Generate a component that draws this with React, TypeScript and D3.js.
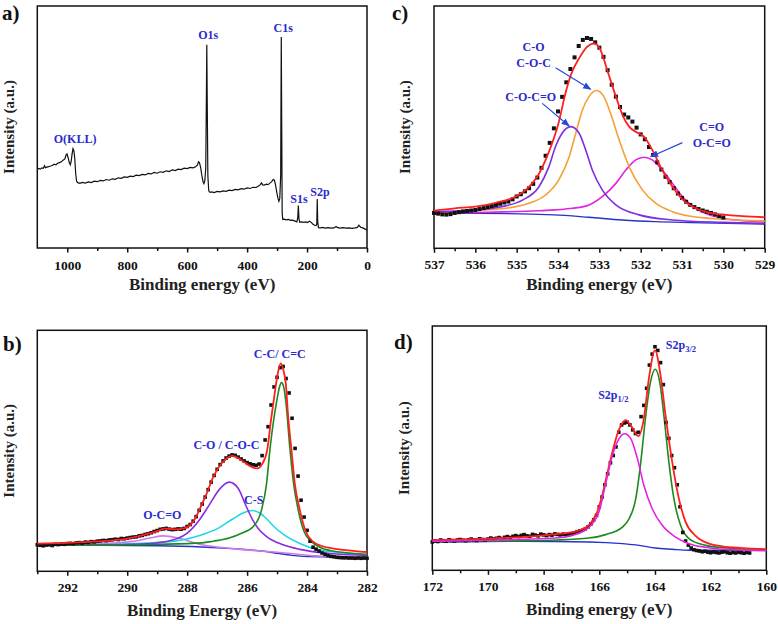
import * as d3 from 'd3'
import { useEffect, useRef } from 'react'

// a) survey spectrum, [binding energy (eV), intensity (a.u.)]
const surveyData: [number, number][] = [
  [1100, 32.4], [1095, 32.9], [1090, 32.6], [1085, 33.1], [1080, 32.9], [1076, 34.0], [1073, 33.2], [1068, 33.4],
  [1062, 33.6], [1056, 33.9], [1050, 34.1], [1044, 34.6], [1038, 34.4], [1032, 35.0], [1026, 35.3], [1020, 35.6],
  [1014, 36.3], [1008, 36.8], [1004, 38.5], [1001, 38.9], [997, 37.2], [993, 35.2], [990, 34.4], [987, 35.8],
  [984, 38.8], [981, 41.0], [978, 40.2], [975, 37.0], [972, 31.0], [969, 27.6], [965, 27.0], [958, 26.7],
  [950, 27.1], [940, 26.8], [930, 27.3], [920, 27.0], [910, 27.6], [900, 27.4], [890, 27.9], [880, 27.7],
  [870, 28.3], [860, 28.0], [850, 28.6], [840, 28.4], [830, 29.0], [820, 28.8], [810, 29.4], [800, 29.2],
  [790, 29.7], [780, 29.5], [770, 30.1], [760, 29.9], [750, 30.4], [740, 30.2], [730, 30.8], [720, 30.6],
  [710, 31.2], [700, 30.9], [690, 31.5], [680, 31.3], [670, 31.9], [660, 31.6], [650, 32.3], [640, 32.0],
  [630, 32.6], [620, 32.4], [610, 33.0], [600, 32.8], [590, 33.3], [580, 33.1], [572, 33.6], [566, 34.2],
  [562, 35.6], [559, 35.3], [555, 33.2], [551, 30.0], [547, 27.4], [544, 26.6], [541, 27.8], [538, 33.0],
  [536, 60.0], [534.5, 84.0], [533, 60.0], [531, 30.0], [528, 23.6], [524, 23.0], [518, 23.2], [510, 22.9],
  [500, 23.4], [490, 23.2], [480, 23.6], [470, 23.4], [460, 23.9], [450, 23.7], [440, 24.2], [430, 24.0],
  [420, 24.5], [410, 24.3], [400, 24.8], [390, 24.6], [380, 25.1], [370, 25.0], [362, 25.6], [356, 26.2],
  [352, 26.9], [348, 26.1], [343, 26.0], [336, 26.4], [330, 26.2], [324, 26.8], [318, 27.4], [313, 28.3],
  [309, 28.0], [305, 26.0], [301, 23.0], [297, 20.5], [294, 19.3], [291, 20.5], [288, 30.0], [286, 87.2],
  [284.5, 50.0], [283, 14.5], [281, 11.8], [276, 11.9], [270, 11.6], [262, 11.8], [255, 11.4], [248, 11.5],
  [240, 11.1], [234, 10.8], [231, 12.5], [229, 17.6], [227, 12.0], [224, 10.6], [218, 10.8], [210, 10.6],
  [204, 10.8], [198, 10.5], [192, 11.1], [188, 10.8], [184, 10.3], [180, 9.8], [175, 9.4], [170, 9.3],
  [167.5, 10.0], [166, 20.2], [164.5, 11.0], [162, 8.4], [155, 8.3], [148, 8.5], [140, 8.2], [130, 8.4],
  [120, 8.2], [110, 8.3], [103, 8.9], [98, 8.4], [90, 8.2], [80, 8.4], [70, 8.2], [60, 8.3],
  [50, 8.1], [40, 8.3], [32, 8.5], [27, 9.4], [24, 9.0], [20, 8.5], [14, 8.3], [8, 7.9], [4, 7.6], [0, 7.3],
]
const surveyLabels = [
  { text: 'O(KLL)', e: 974, i: 43.2 },
  { text: 'O1s', e: 529.5, i: 86.4 },
  { text: 'C1s', e: 279.3, i: 89.4 },
  { text: 'S1s', e: 226.9, i: 18.6 },
  { text: 'S2p', e: 156.8, i: 21.6 },
]

// b) C1s, measured points every 0.1 eV from 293.0 eV down
const c1sStart = 293.0
const c1sMeasured = [
  11.0, 10.8, 10.6, 10.9, 11.0, 10.7, 11.2, 11.1, 11.3, 11.2, // 293.0
  11.5, 11.6, 11.4, 11.8, 11.9, 11.7, 12.1, 12.0, 12.3, 12.2, // 292.0
  12.5, 12.6, 12.8, 12.7, 13.0, 13.1, 13.3, 13.2, 13.6, 13.5, // 291.0
  13.8, 14.0, 14.2, 14.3, 14.7, 14.9, 15.3, 15.6, 16.0, 16.5, // 290.0
  16.9, 17.4, 17.6, 17.8, 17.5, 17.3, 17.4, 17.6, 17.5, 17.8, // 289.0
  18.6, 19.4, 20.8, 22.7, 25.3, 27.9, 30.8, 33.9, 37.0, 39.8, // 288.0
  42.3, 44.3, 45.8, 47.0, 47.8, 48.3, 48.1, 47.4, 46.6, 45.8, // 287.0
  45.1, 44.6, 44.2, 44.0, 44.5, 48.0, 54.5, 60.0, 69.0, 76.5, // 286.0
  80.5, 84.5, 85.0, 80.0, 74.0, 63.5, 51.0, 39.5, 29.5, 22.5, // 285.0
  17.0, 12.5, 10.0, 9.2, 8.4, 7.6, 7.0, 6.5, 6.2, 6.0,        // 284.0
  5.8, 5.7, 5.6, 5.6, 5.5, 5.5, 5.4, 5.5, 5.4, 5.5,           // 283.0
  5.4,                                                        // 282.0
]
const c1sFit: [number, number][] = [
  [293, 11.5], [292, 11.8], [291, 12.4], [290, 13.6], [289.5, 14.9], [289, 16.7], [288.75, 17.7], [288.4, 17.4],
  [288.1, 17.8], [287.9, 19.2], [287.75, 21.5], [287.6, 25.3], [287.35, 32.2], [287.13, 39.1], [286.9, 44], [286.7, 46.6],
  [286.5, 47.9], [286.3, 47], [286.1, 45.3], [285.9, 43.6], [285.65, 42.7], [285.5, 44.5], [285.33, 50.3], [285.2, 63],
  [285.1, 72], [285, 80.5], [284.88, 86.3], [284.78, 83], [284.71, 78], [284.63, 64.1], [284.52, 50.3], [284.41, 36.5],
  [284.24, 25.4], [284.04, 16.4], [283.8, 12.3], [283.5, 10.5], [283.2, 9.6], [282.8, 8.9], [282.4, 8.4], [282, 8.0],
]
const c1sCC: [number, number][] = [
  [293, 10.8], [291, 10.9], [289, 11.2], [287.5, 11.8], [287.13, 12.5], [286.6, 13.8], [286.24, 15.5], [285.8, 18.5],
  [285.52, 25.4], [285.35, 36.5], [285.24, 50.3], [285.1, 64], [285.02, 70], [284.92, 76.5], [284.85, 78.3], [284.78, 76.5],
  [284.69, 68.3], [284.58, 52], [284.45, 36.5], [284.27, 24], [284.1, 16.5], [283.85, 12.3], [283.6, 10.2], [283.2, 8.5],
  [282.5, 7.5], [282, 7.0],
]
const c1sCO: [number, number][] = [
  [293, 10.8], [289.8, 11.2], [288.69, 12.4], [288.02, 15.6], [287.58, 21.5], [287.24, 28], [286.91, 34.2], [286.6, 37],
  [286.3, 34.5], [286.05, 27.5], [285.8, 21], [285.58, 17], [285.36, 14.5], [284.8, 11], [284.24, 9.1], [283.13, 7.3], [282, 6.6],
]
const c1sCS: [number, number][] = [
  [293, 10.9], [290.9, 11.1], [288.69, 12.2], [287.58, 14.9], [287.02, 17.5], [286.47, 21.8], [286.1, 24.4], [285.83, 25.2],
  [285.55, 24], [285.36, 21.9], [285.1, 18.5], [284.8, 15.4], [284.24, 11.5], [283.69, 9.1], [283.13, 8], [282, 6.9],
]
const c1sOCO: [number, number][] = [
  [293, 10.8], [290.91, 11.5], [289.8, 12.4], [289.24, 13.8], [288.8, 14.7], [288.24, 13.6], [287.58, 11.2], [286.47, 9.4],
  [284.8, 7.7], [283.69, 6.4], [282, 5.9],
]
const c1sBackground: [number, number][] = [
  [293, 10.9], [289, 10.6], [287.5, 10.1], [286.5, 9.4], [285.5, 8.4], [285, 7.5], [284.5, 6.6], [284, 6.1], [283, 5.9], [282, 5.9],
]
const c1sLabels = [
  { text: 'C-C/ C=C', e: 284.91, i: 88.6 },
  { text: 'C-O / C-O-C', e: 286.69, i: 50.9 },
  { text: 'C-S', e: 285.78, i: 27.8 },
  { text: 'O-C=O', e: 288.83, i: 21.6 },
]

// c) O1s, measured points every 0.1 eV from 537.0 eV down
const o1sStart = 537.0
const o1sMeasured = [
  14.6, 14.3, 14.0, 13.9, 14.1, 14.6, 14.9, 15.2, 15.4, 15.6, // 537.0
  15.8, 16.2, 16.6, 17.0, 17.4, 17.9, 18.4, 18.9, 19.3, 20.2, // 536.0
  21.4, 22.3, 23.5, 24.8, 26.6, 29.2, 33.2, 38.2, 43.5, 49.5, // 535.0
  56.5, 62.5, 68.5, 74.0, 78.8, 83.5, 86.0, 86.8, 86.4, 85.0, // 534.0
  82.8, 79.0, 73.5, 67.5, 62.6, 58.3, 55.2, 54.0, 52.3, 49.8, // 533.0
  47.0, 45.0, 41.8, 38.5, 35.5, 32.5, 29.5, 27.3, 24.8, 22.6, // 532.0
  20.8, 19.2, 17.9, 17.0, 16.2, 15.6, 15.1, 14.6, 14.0, 13.3, // 531.0
  12.7,                                                       // 530.0
]
const o1sFit: [number, number][] = [
  [537, 15.5], [536.5, 16.5], [536, 17.2], [535.5, 18.8], [535, 21.6], [534.7, 25.4], [534.5, 29.6], [534.3, 36.5],
  [534.1, 45.4], [534, 50.9], [533.81, 64.6], [533.69, 71.5], [533.49, 78.4], [533.29, 83.2], [533.13, 84.6], [532.97, 81.8],
  [532.81, 73.6], [532.6, 62.6], [532.44, 55], [532.28, 50.2], [532.08, 47.7], [531.92, 46.1], [531.72, 40.6], [531.48, 32.3],
  [531.23, 25.4], [530.99, 20.2], [530.67, 16.5], [530.35, 14.7], [529.94, 13.8], [529.54, 13.3], [529, 12.8],
]
const o1sCOC: [number, number][] = [
  [537, 15.1], [536.07, 15.8], [535.27, 17.5], [534.86, 19.9], [534.46, 25.4], [534.22, 33.7], [534.06, 42], [533.9, 47.5],
  [533.69, 50.2], [533.49, 47.5], [533.33, 40.6], [533.17, 32.3], [532.93, 24.1], [532.6, 17.9], [532.04, 13.8], [531.23, 11.7],
  [530.02, 10.7], [529, 10.3],
]
const o1sCO: [number, number][] = [
  [537, 14.9], [536.07, 15.5], [535.27, 16.5], [534.7, 18.6], [534.3, 22], [533.98, 28.2], [533.73, 37.8], [533.57, 47.5],
  [533.41, 57.1], [533.25, 62.6], [533.07, 65.1], [532.89, 62.6], [532.73, 55.7], [532.52, 44.7], [532.28, 33.7], [531.96, 24.1],
  [531.64, 18.6], [531.23, 15.1], [530.83, 13.3], [530.02, 12], [529, 11.3],
]
const o1sCdO: [number, number][] = [
  [537, 14.4], [535.67, 14.9], [534.46, 15.5], [533.65, 16.5], [533.25, 17.9], [532.93, 21.3], [532.6, 26.8], [532.36, 32.3],
  [532.12, 36.5], [531.92, 37.6], [531.72, 36.5], [531.48, 32.3], [531.23, 26.8], [530.99, 21.3], [530.67, 16.5], [530.35, 13.8],
  [530.02, 12.4], [529.54, 11.4], [529, 11],
]
const o1sBackground: [number, number][] = [
  [537, 14.4], [535.9, 14.4], [534.1, 13.8], [533.25, 12.8], [532.45, 11.7], [531.65, 11], [530.8, 10.6], [529, 10.0],
]
const o1sLabels = [
  { text: 'C-O', e: 534.59, i: 81.6 },
  { text: 'C-O-C', e: 534.59, i: 74.9 },
  { text: 'C-O-C=O', e: 534.66, i: 60.9 },
  { text: 'C=O', e: 530.28, i: 48.5 },
  { text: 'O-C=O', e: 530.28, i: 41.9 },
]
// arrows: [from e, from i, to e, to i]
const o1sArrows = [
  [534.06, 74.5, 533.21, 65.6],
  [534.38, 59.8, 533.73, 50.5],
  [530.99, 43.6, 531.76, 37.8],
]

// d) S2p, measured points every 0.1 eV from 172.0 eV down
const s2pStart = 172.0
const s2pMeasured = [
  11.6, 12.0, 11.8, 12.4, 12.1, 11.9, 12.5, 12.2, 12.0, 12.4, // 172.0
  12.6, 12.3, 12.1, 12.5, 12.8, 12.4, 12.2, 12.9, 12.6, 12.4, // 171.0
  12.8, 13.2, 12.9, 13.1, 13.4, 13.0, 13.5, 13.8, 13.4, 13.9, // 170.0
  14.2, 13.8, 14.3, 14.6, 14.1, 13.9, 14.7, 14.4, 14.1, 14.8, // 169.0
  14.5, 14.2, 14.6, 14.4, 14.9, 14.7, 14.5, 14.8, 14.6, 14.6, // 168.0
  15.0, 15.3, 15.8, 16.1, 16.4, 17.0, 17.8, 19.0, 20.7, 22.5, // 167.0
  26.0, 30.0, 35.0, 39.5, 44.0, 47.0, 50.5, 56.5, 59.5, 60.3, // 166.0
  60.6, 59.5, 57.5, 56.0, 56.5, 62.9, 67.5, 74.5, 84.0, 88.5, // 165.0
  91.5, 90.0, 85.0, 76.0, 60.5, 54.0, 47.0, 42.0, 35.0, 26.0, // 164.0
  15.5, 12.0, 10.3, 9.1, 8.4, 8.1, 7.9, 7.6, 7.8, 7.4,        // 163.0
  7.2, 7.5, 7.3, 7.1, 7.4, 7.6, 7.2, 7.0, 7.3, 7.1,           // 162.0
  7.4, 7.2, 7.0, 7.3, 7.1,                                    // 161.0
]
const s2pFit: [number, number][] = [
  [172, 12.3], [169.96, 13], [168.77, 13.6], [167.57, 14.8], [166.97, 15.6], [166.61, 16.8], [166.4, 18.3], [166.25, 20.3],
  [166.07, 24.0], [165.9, 30.5], [165.73, 38.8], [165.55, 47.5], [165.35, 55.8], [165.2, 59.8], [165.05, 61.5], [164.87, 59.3],
  [164.6, 54.9], [164.4, 62.1], [164.22, 78.4], [164.0, 90.0], [163.8, 79.8], [163.62, 63.4], [163.38, 44.3], [163.14, 29.3],
  [162.9, 19.8], [162.54, 14.1], [162.06, 10.9], [161.58, 9.8], [160.86, 9.1], [160, 8.6],
]
const s2p32: [number, number][] = [
  [172, 11.6], [169.96, 11.9], [167.57, 12.4], [166.37, 13.2], [165.77, 14.6], [165.17, 17.7], [164.93, 21.1], [164.69, 29.3],
  [164.51, 44.3], [164.33, 63.4], [164.16, 77.1], [163.99, 82.3], [163.83, 77.1], [163.68, 63.4], [163.5, 44.3], [163.32, 29.3],
  [163.08, 18.4], [162.78, 13], [162.18, 10.2], [161.58, 9.3], [160, 8.6],
]
const s2p12: [number, number][] = [
  [172, 11.9], [169.96, 12.3], [168.77, 12.7], [167.57, 13.2], [166.97, 14.3], [166.61, 15.8], [166.25, 19.0], [166.01, 24.0],
  [165.77, 35.5], [165.53, 47.0], [165.29, 53.9], [165.09, 55.9], [164.87, 53.9], [164.63, 45.7], [164.4, 34.8], [164.1, 25.2],
  [163.74, 18.4], [163.26, 13.6], [162.78, 10.9], [162.18, 9.4], [161.58, 8.6], [160, 8],
]
const s2pBackground: [number, number][] = [
  [172, 11.6], [168.77, 11.9], [166.37, 11.6], [165.17, 10.9], [164.57, 10.2], [163.98, 9.1], [163.38, 8.6], [162.78, 8.2], [160, 8.2],
]
const s2pLabels = [
  { main: 'S2p', sub: '3/2', e: 163.61, i: 90.7 },
  { main: 'S2p', sub: '1/2', e: 166.04, i: 70.2 },
]

const serif = "'Liberation Serif', 'Times New Roman', serif"
const labelBlue = '#2b2bcc'

function setupPanel(svg: any, p: any) {
  const x = d3.scaleLinear().domain(p.domain).range([p.left, p.right])
  const y = d3.scaleLinear().domain([0, 100]).range([p.bottom, p.top])
  const g = svg.append('g')

  const minor = g.append('g').attr('transform', `translate(0,${p.bottom})`)
    .call(d3.axisBottom(x).tickValues(p.minors).tickSize(3).tickFormat(() => ''))
  minor.select('.domain').remove()
  minor.selectAll('line').attr('stroke', '#111').attr('stroke-width', 1.5)

  const major = g.append('g').attr('transform', `translate(0,${p.bottom})`)
    .call(d3.axisBottom(x).tickValues(p.majors).tickSize(4.5).tickFormat(d3.format('d')))
  major.select('.domain').remove()
  major.selectAll('line').attr('stroke', '#111').attr('stroke-width', 1.5)
  major.selectAll('text').attr('y', p.tickY).attr('dy', null)
    .attr('font-family', serif).attr('font-weight', 'bold').attr('font-size', 13.5).attr('fill', '#111')

  g.append('rect').attr('x', p.left).attr('y', p.top)
    .attr('width', p.right - p.left).attr('height', p.bottom - p.top)
    .attr('fill', 'none').attr('stroke', '#111').attr('stroke-width', 1.5)

  g.append('text').text(p.title)
    .attr('x', (p.left + p.right) / 2).attr('y', p.bottom + p.titleY)
    .attr('text-anchor', 'middle').attr('font-family', serif).attr('font-weight', 'bold')
    .attr('font-size', 17).attr('fill', '#222')

  g.append('text').text('Intensity (a.u.)')
    .attr('transform', `translate(${p.left - 29},${(p.top + p.bottom) / 2}) rotate(-90)`)
    .attr('text-anchor', 'middle').attr('dy', '0.35em')
    .attr('font-family', serif).attr('font-weight', 'bold').attr('font-size', 15).attr('fill', '#222')

  g.append('text').text(p.letter)
    .attr('x', p.letterX).attr('y', p.letterY)
    .attr('font-family', serif).attr('font-weight', 'bold').attr('font-size', 21).attr('fill', '#111')

  return { g, x, y }
}

function drawCurve(g: any, x: any, y: any, pts: [number, number][], color: string, width = 1.6) {
  const line = d3.line<[number, number]>().x(d => x(d[0])).y(d => y(d[1])).curve(d3.curveMonotoneX)
  g.append('path').datum(pts).attr('d', line).attr('fill', 'none')
    .attr('stroke', color).attr('stroke-width', width)
}

function drawSquares(g: any, x: any, y: any, start: number, values: number[], size: number) {
  const pts = values.map((v, k) => [start - k * 0.1, v])
  g.append('g').selectAll('rect').data(pts).enter().append('rect')
    .attr('x', (d: number[]) => x(d[0]) - size / 2).attr('y', (d: number[]) => y(d[1]) - size / 2)
    .attr('width', size).attr('height', size).attr('fill', '#111')
}

function drawLabels(g: any, x: any, y: any, labels: any[]) {
  g.selectAll(null).data(labels).enter().append('text')
    .text((d: any) => d.text)
    .attr('x', (d: any) => x(d.e)).attr('y', (d: any) => y(d.i))
    .attr('text-anchor', 'middle').attr('font-family', serif).attr('font-weight', 'bold')
    .attr('font-size', 12).attr('fill', labelBlue)
}

function makeChart(el: SVGSVGElement) {
  const svg = d3.select(el)
  svg.selectAll('*').remove()

  svg.append('defs').append('marker').attr('id', 'arrowBlue')
    .attr('viewBox', '0 0 10 10').attr('refX', 9).attr('refY', 5)
    .attr('markerWidth', 7).attr('markerHeight', 7).attr('orient', 'auto')
    .append('path').attr('d', 'M0,1 L10,5 L0,9 Z').attr('fill', '#2a48d8')

  // a) survey
  const a = setupPanel(svg, {
    left: 37.3, right: 367, top: 6, bottom: 248, domain: [1100, 0],
    majors: [1000, 800, 600, 400, 200, 0], minors: [900, 700, 500, 300, 100],
    tickY: 22, titleY: 42, title: 'Binding energy (eV)', letter: 'a)', letterX: 2, letterY: 20,
  })
  a.g.append('path').datum(surveyData)
    .attr('d', d3.line<[number, number]>().x(d => a.x(d[0])).y(d => a.y(d[1])))
    .attr('fill', 'none').attr('stroke', '#111').attr('stroke-width', 1.2)
  drawLabels(a.g, a.x, a.y, surveyLabels)

  // b) C1s
  const b = setupPanel(svg, {
    left: 37.3, right: 367, top: 330.3, bottom: 571.3, domain: [293, 282],
    majors: [292, 290, 288, 286, 284, 282], minors: [293, 291, 289, 287, 285, 283],
    tickY: 21, titleY: 45, title: 'Binding Energy (eV)', letter: 'b)', letterX: 3, letterY: 351,
  })
  drawCurve(b.g, b.x, b.y, c1sBackground, '#2433c8', 1.4)
  drawCurve(b.g, b.x, b.y, c1sOCO, '#d27be6', 1.6)
  drawCurve(b.g, b.x, b.y, c1sCS, '#22d6e6', 1.6)
  drawCurve(b.g, b.x, b.y, c1sCO, '#8a2be2', 1.6)
  drawCurve(b.g, b.x, b.y, c1sCC, '#1d8a1d', 1.6)
  drawSquares(b.g, b.x, b.y, c1sStart, c1sMeasured, 3.6)
  drawCurve(b.g, b.x, b.y, c1sFit, '#ff1f1f', 1.8)
  drawLabels(b.g, b.x, b.y, c1sLabels)

  // c) O1s
  const c = setupPanel(svg, {
    left: 434, right: 764.7, top: 6, bottom: 248.3, domain: [537, 529],
    majors: d3.range(537, 528.5, -1), minors: d3.range(536.5, 529, -1),
    tickY: 21, titleY: 42, title: 'Binding energy (eV)', letter: 'c)', letterX: 392, letterY: 20,
  })
  drawCurve(c.g, c.x, c.y, o1sBackground, '#2433c8', 1.4)
  drawCurve(c.g, c.x, c.y, o1sCdO, '#e024e0', 1.6)
  drawCurve(c.g, c.x, c.y, o1sCO, '#f5a033', 1.6)
  drawCurve(c.g, c.x, c.y, o1sCOC, '#7d2ee0', 1.6)
  drawSquares(c.g, c.x, c.y, o1sStart, o1sMeasured, 4)
  drawCurve(c.g, c.x, c.y, o1sFit, '#ff1f1f', 1.8)
  drawLabels(c.g, c.x, c.y, o1sLabels)
  c.g.selectAll(null).data(o1sArrows).enter().append('line')
    .attr('x1', (d: number[]) => c.x(d[0])).attr('y1', (d: number[]) => c.y(d[1]))
    .attr('x2', (d: number[]) => c.x(d[2])).attr('y2', (d: number[]) => c.y(d[3]))
    .attr('stroke', '#2a48d8').attr('stroke-width', 1.2).attr('marker-end', 'url(#arrowBlue)')

  // d) S2p
  const d = setupPanel(svg, {
    left: 432.3, right: 766.3, top: 326, bottom: 570.3, domain: [172, 160],
    majors: [172, 170, 168, 166, 164, 162, 160], minors: [171, 169, 167, 165, 163, 161],
    tickY: 21, titleY: 45, title: 'Binding energy (eV)', letter: 'd)', letterX: 394, letterY: 349,
  })
  drawCurve(d.g, d.x, d.y, s2pBackground, '#2433c8', 1.4)
  drawCurve(d.g, d.x, d.y, s2p32, '#1d8a1d', 1.6)
  drawSquares(d.g, d.x, d.y, s2pStart, s2pMeasured, 3.6)
  drawCurve(d.g, d.x, d.y, s2pFit, '#ff1f1f', 1.8)
  drawCurve(d.g, d.x, d.y, s2p12, '#e024e0', 1.6)
  const st = d.g.selectAll(null).data(s2pLabels).enter().append('text')
    .attr('x', (l: any) => d.x(l.e)).attr('y', (l: any) => d.y(l.i))
    .attr('font-family', serif).attr('font-weight', 'bold').attr('font-size', 12).attr('fill', labelBlue)
  st.append('tspan').text((l: any) => l.main)
  st.append('tspan').text((l: any) => l.sub).attr('font-size', 8.5).attr('dy', 3.5)
}

export default function App() {
  const ref = useRef<SVGSVGElement>(null)
  useEffect(() => {
    if (ref.current) makeChart(ref.current)
  })
  return (
    <svg ref={ref} width={778} height={624}
      style={{ position: 'absolute', left: 0, top: 0, background: '#fff' }} />
  )
}
